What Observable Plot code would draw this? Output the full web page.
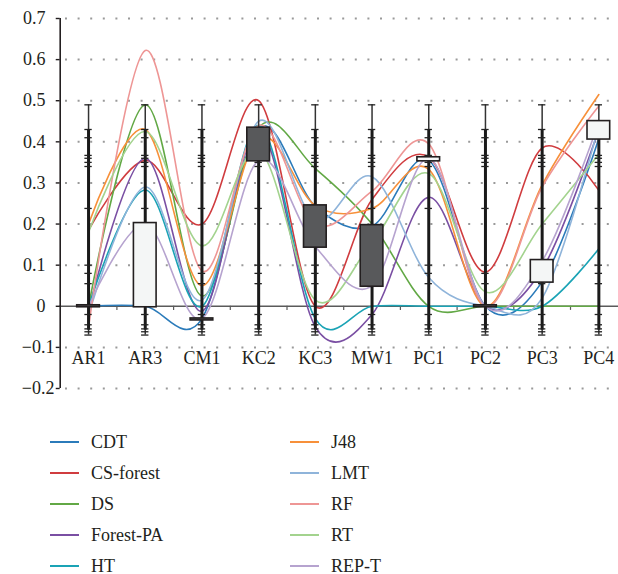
<!DOCTYPE html>
<html><head><meta charset="utf-8">
<script src="https://cdn.jsdelivr.net/npm/d3@7"></script>
<script src="https://cdn.jsdelivr.net/npm/@observablehq/plot@0.6"></script>
<style>
body{margin:0;background:#fff;font-family:"Liberation Serif","DejaVu Serif","Times New Roman",serif;}
#chart{width:618px;}
#chart svg text{font-family:"Liberation Serif","DejaVu Serif","Times New Roman",serif;}
.legend{position:relative;width:618px;height:164px;}
.item{position:absolute;display:flex;align-items:center;font-size:18px;color:#231f20;height:22px;white-space:nowrap;}
.sw{width:29px;height:2.5px;margin-right:12px;}
</style></head><body><div id="chart"></div>
<script>
const categories = ["AR1","AR3","CM1","KC2","KC3","MW1","PC1","PC2","PC3","PC4"];
const seriesNames = ["CDT","CS-forest","DS","Forest-PA","HT","J48","LMT","RF","RT","REP-T"];
const seriesColors = ["#2b7bba","#d03c3f","#62a845","#7a4fa3","#1aa3b5","#f7903a","#8fb4da","#ee9695","#a3d38e","#b6a3cf"];
const CDT      = [0,     0,     -0.03, 0.432, 0.243, 0.195, 0.355, 0,     0.06,  0.408];
const CSforest = [0.185, 0.355, 0.2,   0.5,   0,     0.26,  0.363, 0.083, 0.385, 0.282];
const DS       = [0,     0.49,  0.025, 0.435, 0.335, 0.2,   0,     0,     0,     0];
const ForestPA = [-0.01, 0.36,  -0.012,0.43,  -0.05, -0.02, 0.265, 0,     0.09,  0.43];
const HT       = [0,     0.283, 0,     0.44,  -0.03, 0,     0,     0,     0,     0.14];
const J48      = [0.2,   0.43,  0.05,  0.41,  0.245, 0.238, 0.333, 0,     0.295, 0.515];
const LMT      = [-0.02, 0.29,  0.015, 0.45,  0.21,  0.315, 0.07,  0,     0.02,  0.44];
const RF       = [-0.05, 0.622, 0.086, 0.44,  0.2,   0.28,  0.395, 0,     0.29,  0.487];
const RT       = [0.18,  0.425, 0.147, 0.38,  0.015, 0.155, 0.323, 0.035, 0.2,   0.37];
const REPT     = [0,     0.2,   -0.03, 0.355, 0.145, 0.05,  0.36,  0,     0.11,  0.448];
const seriesValues = [CDT, CSforest, DS, ForestPA, HT, J48, LMT, RF, RT, REPT];

const openVals  = [0, 0,   -0.032, 0.432, 0.243, 0.195, 0.355, 0, 0.06, 0.408];
const closeVals = [0, 0.2, -0.032, 0.355, 0.145, 0.05,  0.36,  0, 0.11, 0.448];
const highVals  = [0.49, 0.49, 0.49, 0.49, 0.49, 0.49, 0.49, 0.49, 0.49, 0.49];
const lowVals   = [-0.07, -0.07, -0.07, -0.07, -0.07, -0.07, -0.07, -0.07, -0.07, -0.07];
const innerHigh = 0.43, innerLow = -0.058;
const whiskerTicks = [0.49, 0.43, 0.41, 0.367, 0.36, 0.35, 0.34, 0.238, 0.1, 0.08, 0.055, -0.02, -0.045, -0.055, -0.062, -0.07];
const yTicks = [0.7, 0.6, 0.5, 0.4, 0.3, 0.2, 0.1, 0, -0.1, -0.2];
const yDomain = [-0.2, 0.7];
const xDomain = [-0.5, categories.length - 0.5];

const lineRows = seriesNames.flatMap((s, k) => seriesValues[k].map((v, i) => ({series: s, i, value: v})));
const catRows = categories.map((c, i) => ({i, name: c, open: openVals[i], close: closeVals[i], high: highVals[i], low: lowVals[i]}));
const tickRows = catRows.flatMap(d => whiskerTicks.map(v => ({i: d.i, v})));
const boundaries = categories.slice(0, -1).map((c, i) => i + 0.5);
const fmt = d => d === 0 ? "0" : d.toFixed(1).replace("-", "\u2212");
const ink = "#231f20";
const serif = "Liberation Serif, DejaVu Serif, Times New Roman, serif";

const chart = Plot.plot({
  width: 618, height: 410,
  marginLeft: 59, marginRight: 0, marginTop: 18, marginBottom: 22,
  style: {fontFamily: serif, fontSize: "18px", color: ink, background: "#fff"},
  x: {type: "linear", domain: xDomain, range: [59.7, 626.7], axis: null},
  y: {domain: yDomain, axis: null},
  color: {domain: seriesNames, range: seriesColors},
  marks: [
    Plot.gridY(yTicks.filter(t => t !== 0), {stroke: "#9a9a9a", strokeOpacity: 1, strokeWidth: 2, strokeDasharray: "2,10.6", strokeDashoffset: 6.6}),
    Plot.ruleY([0], {stroke: "#5a5a5a", strokeWidth: 1.5}),
    Plot.ruleX(boundaries, {x: d => d, y1: 0, y2: -0.01, stroke: "#5a5a5a", strokeWidth: 1.2}),
    Plot.ruleX([xDomain[0]], {y1: yDomain[0], y2: yDomain[1], stroke: ink, strokeWidth: 1.6}),
    Plot.ruleY(yTicks, {y: d => d, x1: xDomain[0] - 0.07, x2: xDomain[0], stroke: ink, strokeWidth: 1.4}),
    Plot.text(yTicks.filter(t => t >= 0), {x: xDomain[0] - 0.26, y: d => d, text: fmt, textAnchor: "end", fontSize: 18, fill: ink, fontFamily: serif}),
    Plot.text(yTicks.filter(t => t < 0), {x: xDomain[0] - 0.1, y: d => d, text: fmt, textAnchor: "end", fontSize: 18, fill: ink, fontFamily: serif}),
    Plot.text(catRows, {x: "i", text: "name", frameAnchor: "bottom", lineAnchor: "bottom", dy: -25, fontSize: 18, fill: ink, fontFamily: serif}),
    Plot.line(lineRows, {x: "i", y: "value", z: "series", stroke: "series", curve: "cardinal", tension: 0, strokeWidth: 1.6}),
    Plot.ruleX(catRows, {x: "i", y1: "low", y2: "high", stroke: "#333", strokeWidth: 1.5}),
    Plot.ruleX(catRows, {x: "i", y1: innerLow, y2: innerHigh, stroke: "#1a1a1a", strokeWidth: 3}),
    Plot.ruleY(tickRows, {y: "v", x1: d => d.i - 0.065, x2: d => d.i + 0.065, stroke: "#222", strokeWidth: 1.3}),
    Plot.rect(catRows.filter(d => d.close > d.open), {x1: d => d.i - 0.2, x2: d => d.i + 0.2, y1: "open", y2: "close", fill: "#f4f6f6", stroke: ink, strokeWidth: 1.6, insetTop: -1, insetBottom: -1}),
    Plot.rect(catRows.filter(d => d.close <= d.open), {x1: d => d.i - 0.2, x2: d => d.i + 0.2, y1: "open", y2: "close", fill: "#58595b", stroke: ink, strokeWidth: 1.6, insetTop: -1, insetBottom: -1})
  ]
});
document.getElementById("chart").appendChild(chart);

const legend = document.createElement("div");
legend.className = "legend";
seriesNames.forEach((s, k) => {
  const col = Math.floor(k / 5), row = k % 5;
  const item = document.createElement("div");
  item.className = "item";
  item.style.left = (col === 0 ? 50 : 290) + "px";
  item.style.top = (33 + row * 31 - 12) + "px";
  const sw = document.createElement("span");
  sw.className = "sw";
  sw.style.background = seriesColors[k];
  const label = document.createElement("span");
  label.textContent = s;
  item.appendChild(sw); item.appendChild(label);
  legend.appendChild(item);
});
document.body.appendChild(legend);
</script></body></html>
